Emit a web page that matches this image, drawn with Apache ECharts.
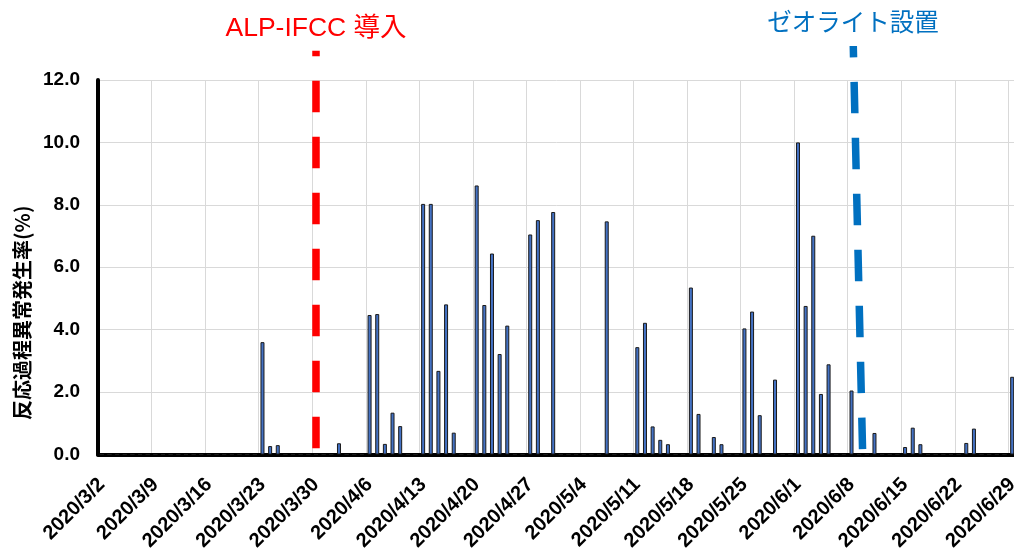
<!DOCTYPE html>
<html>
<head>
<meta charset="utf-8">
<script src="https://cdn.jsdelivr.net/npm/echarts@6/dist/echarts.min.js"></script>
<style>html,body{margin:0;padding:0;background:#fff}#c{width:1014px;height:549px}</style>
</head>
<body>
<div id="c"></div>
<script>
// ---- data ----
const firstDay = '2020/3/2';
const dayCount = 120; // 2020/3/2 .. 2020/6/29
const categories = (function () {
  const out = [];
  const d0 = new Date(Date.UTC(2020, 2, 2));
  for (let i = 0; i < dayCount; i++) {
    const d = new Date(d0.getTime() + i * 86400000);
    out.push(d.getUTCFullYear() + '/' + (d.getUTCMonth() + 1) + '/' + d.getUTCDate());
  }
  return out;
})();

// daily rate (%), one row per week starting Monday
const rates = [
  0, 0, 0, 0, 0, 0, 0,                 // 3/2
  0, 0, 0, 0, 0, 0, 0,                 // 3/9
  0, 0, 0, 0, 0, 0, 0,                 // 3/16
  3.6, 0.27, 0.30, 0, 0, 0, 0,         // 3/23
  0, 0, 0, 0.36, 0, 0, 0,              // 3/30
  4.47, 4.5, 0.34, 1.34, 0.91, 0, 0,   // 4/6
  8.03, 8.03, 2.68, 4.81, 0.70, 0, 0,  // 4/13
  8.62, 4.79, 6.44, 3.22, 4.13, 0, 0,  // 4/20
  7.05, 7.51, 0, 7.77, 0, 0, 0,        // 4/27
  0, 0, 0, 7.47, 0, 0, 0,              // 5/4
  3.44, 4.22, 0.90, 0.47, 0.33, 0, 0,  // 5/11
  5.35, 1.30, 0, 0.56, 0.33, 0, 0,     // 5/18
  4.04, 4.58, 1.26, 0, 2.40, 0, 0,     // 5/25
  10.0, 4.76, 7.01, 1.94, 2.89, 0, 0,  // 6/1
  2.05, 0, 0, 0.69, 0, 0, 0,           // 6/8
  0.24, 0.86, 0.33, 0, 0, 0, 0,        // 6/15
  0, 0.37, 0.83, 0, 0, 0, 0,           // 6/22
  2.49                                 // 6/29
];

const yTicks = [0, 2, 4, 6, 8, 10, 12];
const yAxisName = '反応過程異常発生率(%)';

// annotations: [day offset from firstDay, value]
const redNoteText = 'ALP-IFCC 導入';
const redNoteFrom = [28.5, 0.2];
const redNoteTo = [28.5, 12.94];
const blueNoteText = 'ゼオライト設置';
const blueNoteFrom = [99.94, 0.17];
const blueNoteTo = [98.73, 13.09];

// ---- chart ----
const chart = echarts.init(document.getElementById('c'), null, {renderer: 'canvas'});
const plotTop = 80, plotBottom = 94.5;
const unit = (549 - plotTop - plotBottom) / 12;
const annMax = 14;
const annTop = plotTop - (annMax - 12) * unit;

function noteLine(text, from, to, color, size, dist) {
  return [
    {coord: from, lineStyle: {color: color, width: 7.5, type: [31.5, 24.5]},
     label: {show: true, position: 'end', formatter: text, color: color, distance: dist,
             fontSize: size, fontFamily: "'Liberation Sans','Noto Sans CJK JP',sans-serif"}},
    {coord: to}
  ];
}

const option = {
  animation: false,
  backgroundColor: '#ffffff',
  grid: [
    {left: 98, right: -2, top: plotTop, bottom: plotBottom, outerBoundsMode: 'none', containLabel: false},
    {left: 98, right: -2, top: annTop, bottom: plotBottom, outerBoundsMode: 'none', containLabel: false}
  ],
  xAxis: [
    {
      type: 'category', gridIndex: 0, data: categories, boundaryGap: true,
      axisLine: {show: true, lineStyle: {color: '#000', width: 4}},
      axisTick: {show: false},
      axisLabel: {interval: 6, rotate: 45, margin: 27, color: '#000', fontSize: 20,
                  fontWeight: 'bold', fontFamily: "'Liberation Sans',sans-serif"},
      splitLine: {show: true, interval: 6, lineStyle: {color: '#d9d9d9', width: 1}}
    },
    {type: 'value', gridIndex: 1, min: 0, max: dayCount, show: false}
  ],
  yAxis: [
    {
      type: 'value', gridIndex: 0, min: yTicks[0], max: yTicks[yTicks.length - 1], interval: 2,
      name: yAxisName, nameLocation: 'middle', nameGap: 66,
      nameTextStyle: {fontSize: 20, fontWeight: 'bold', color: '#000',
                      fontFamily: "'Noto Sans CJK JP',sans-serif", padding: [0, 91, 0, 0]},
      axisLine: {show: true, lineStyle: {color: '#000', width: 4}},
      axisTick: {show: false},
      axisLabel: {formatter: function (v) { return v.toFixed(1); }, margin: 18, color: '#000',
                  fontSize: 19, fontWeight: 'bold', fontFamily: "'Liberation Sans',sans-serif"},
      splitLine: {show: true, lineStyle: {color: '#d9d9d9', width: 1}}
    },
    {type: 'value', gridIndex: 1, min: 0, max: annMax, show: false}
  ],
  series: [
    {
      type: 'bar', xAxisIndex: 0, yAxisIndex: 0, data: rates, barWidth: 4,
      itemStyle: {color: '#4472C4', borderColor: '#1a1a1a', borderWidth: 1}
    },
    {
      type: 'line', xAxisIndex: 1, yAxisIndex: 1, data: [], silent: true,
      markLine: {
        silent: true, symbol: ['none', 'none'], animation: false,
        data: [
          noteLine(redNoteText, redNoteFrom, redNoteTo, '#FF0000', 26.5, 9),
          noteLine(blueNoteText, blueNoteFrom, blueNoteTo, '#0070C0', 24.5, 9)
        ]
      }
    }
  ]
};
chart.setOption(option);
</script>
</body>
</html>
